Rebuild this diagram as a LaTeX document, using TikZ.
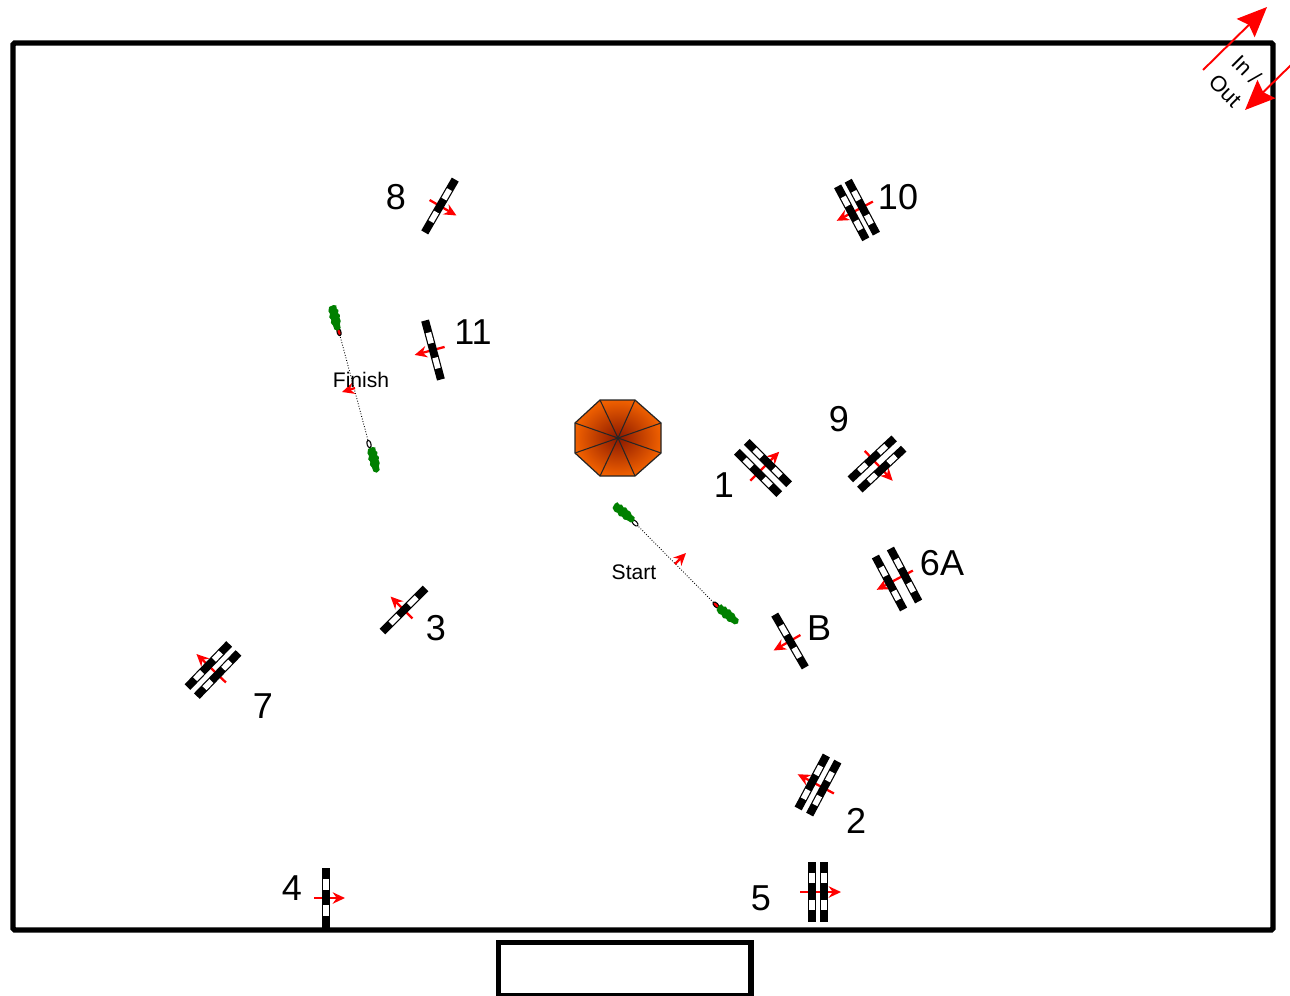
\documentclass[tikz,border=0pt]{standalone}
\usepackage{fontspec}
\setmainfont{Liberation Sans}
\usetikzlibrary{arrows.meta}
\definecolor{tentin}{HTML}{8A1800}
\definecolor{tentout}{HTML}{F06000}
\tikzset{
  jumpno/.style={font=\fontsize{20.5}{24}\selectfont, inner sep=0pt},
  smalltxt/.style={font=\fontsize{12}{14}\selectfont, inner sep=0pt},
  redarrow/.style={red, line width=1.3pt, -{Stealth[length=7pt, width=6.5pt, fill=red!70!gray]}},
  bigarrow/.style={red, line width=1.1pt, -{Stealth[length=17pt, width=14.5pt, inset=2.5pt]}},
  handler/.style={fill=green!50!black},
}
\begin{document}
\begin{tikzpicture}[x=0.02cm, y=-0.02cm]
  \useasboundingbox (0,0) rectangle (1290,995);
  % ring
  \draw[line width=3.1pt, rounded corners=1pt] (13,43) rectangle (1273,930);
  % judge table
  \draw[line width=3.3pt] (498.5,942.5) rectangle (751,996);
  % in / out gate
  \coordinate (inA) at (1203,70);
  \coordinate (inB) at (1267,7);
  \coordinate (outA) at (1292,64);
  \coordinate (outB) at (1245,110);
  \draw[bigarrow] (inA) -- (inB);
  \draw[bigarrow] (outA) -- (outB);
  \node[rotate=-45, inner sep=0pt, font=\fontsize{12.5}{17}\selectfont, align=center] (gate) at (1236,80) {In /\\Out};
  % tent
  \shade[inner color=tentin, outer color=tentout]
    (600,400) -- (635,400) -- (661,423) -- (661,453) -- (635,476) -- (600,476) -- (575,453) -- (575,423) -- cycle;
  \draw[line width=0.7pt, black!85]
    (600,400) -- (635,400) -- (661,423) -- (661,453) -- (635,476) -- (600,476) -- (575,453) -- (575,423) -- cycle;
  \coordinate (tent) at (618,438);
  \foreach \cx/\cy in {600/400, 635/400, 661/423, 661/453, 635/476, 600/476, 575/453, 575/423} {
    \draw[line width=0.6pt, black!85] (tent) -- (\cx,\cy);
  }
  % single jumps: x / y / direction of the arrow
  \foreach \jx/\jy/\ja in {440/206/-30, 433/350/195, 790/641/210, 404/610/135, 326/898/0} {
    \begin{scope}[shift={(\jx,\jy)}, rotate=\ja]
      \draw[redarrow] (-12,0) -- (19,0);
      \fill (-4,-30.5) rectangle (4,30.5);
      \fill[white] (-2.8,-19) rectangle (2.8,-8);
      \fill[white] (-2.8,7) rectangle (2.8,18);
    \end{scope}
  }
  % double jumps: x / y / direction of the arrow / half spread
  \foreach \jx/\jy/\ja/\js in {857/210/208/6, 763/468/45/7, 877/464/-47/7, 897/579/208/8.5, 213/670/136/6.5, 818/785/152/6.5, 818/892/0/6} {
    \begin{scope}[shift={(\jx,\jy)}, rotate=\ja]
      \draw[redarrow] (-18,0) -- (23,0);
      \foreach \bs in {-1,1} {
        \pgfmathsetmacro{\bx}{\bs*\js}
        \fill (\bx-4,-30) rectangle (\bx+4,30);
        \fill[white] (\bx-2.8,-19) rectangle (\bx+2.8,-9);
        \fill[white] (\bx-2.8,8) rectangle (\bx+2.8,18);
      }
    \end{scope}
  }
  % jump numbers
  \node[jumpno] (n8) at (396,197) {8};
  \node[jumpno] (n10) at (898,197) {10};
  \node[jumpno] (n11) at (473,332) {11};
  \node[jumpno] (n9) at (839,419) {9};
  \node[jumpno] (n1) at (724,485) {1};
  \node[jumpno] (n6A) at (942,563) {6A};
  \node[jumpno] (nB) at (819,628) {B};
  \node[jumpno] (n3) at (436,628) {3};
  \node[jumpno] (n7) at (263,706) {7};
  \node[jumpno] (n2) at (856,821) {2};
  \node[jumpno] (n4) at (292,888) {4};
  \node[jumpno] (n5) at (761,898) {5};
  % start line
  \coordinate (startA) at (635,523);
  \coordinate (startB) at (716,605);
  \draw[line width=0.5pt, densely dotted] (startA) -- (startB);
  \coordinate (startC) at (675,564);
  \coordinate (startD) at (686,553);
  \draw[redarrow] (startC) -- (startD);
  \node[smalltxt] (start) at (634,572) {Start};
  % finish line
  \coordinate (finA) at (339,332);
  \coordinate (finB) at (369,444);
  \draw[line width=0.5pt, densely dotted] (finA) -- (finB);
  \coordinate (finC) at (355,388);
  \coordinate (finD) at (342,392);
  \draw[redarrow] (finC) -- (finD);
  \node[smalltxt] (finish) at (361,380) {Finish};
  % posts: x / y / angle / fill
  \foreach \hx/\hy/\ha/\hc in {635/523/-45/white, 716/605/-45/red, 339/332/-75/red, 369/444/-75/white} {
    \begin{scope}[shift={(\hx,\hy)}, rotate=\ha]
      \draw[line width=0.6pt, fill=\hc] (0,0) ellipse (3.8 and 2);
    \end{scope}
  }
  % handlers
  \foreach \hx/\hy/\ha in {624/513/-40, 728/615/-40, 335/318/-78, 374/460/-78} {
    \begin{scope}[shift={(\hx,\hy)}, rotate=\ha]
      \fill[handler] (-13,-1) -- (-12,-4) -- (-9,-3.5) -- (-7,-5) -- (-4,-4) -- (-2,-5.5) -- (1,-4.5) -- (4,-5) -- (7,-3.5)
        -- (11,-3.5) -- (13,0) -- (11,3) -- (7,3.5) -- (4,5) -- (1,4) -- (-2,5.5) -- (-5,4) -- (-8,5) -- (-12,3.5) -- cycle;
    \end{scope}
  }
\end{tikzpicture}
\end{document}
